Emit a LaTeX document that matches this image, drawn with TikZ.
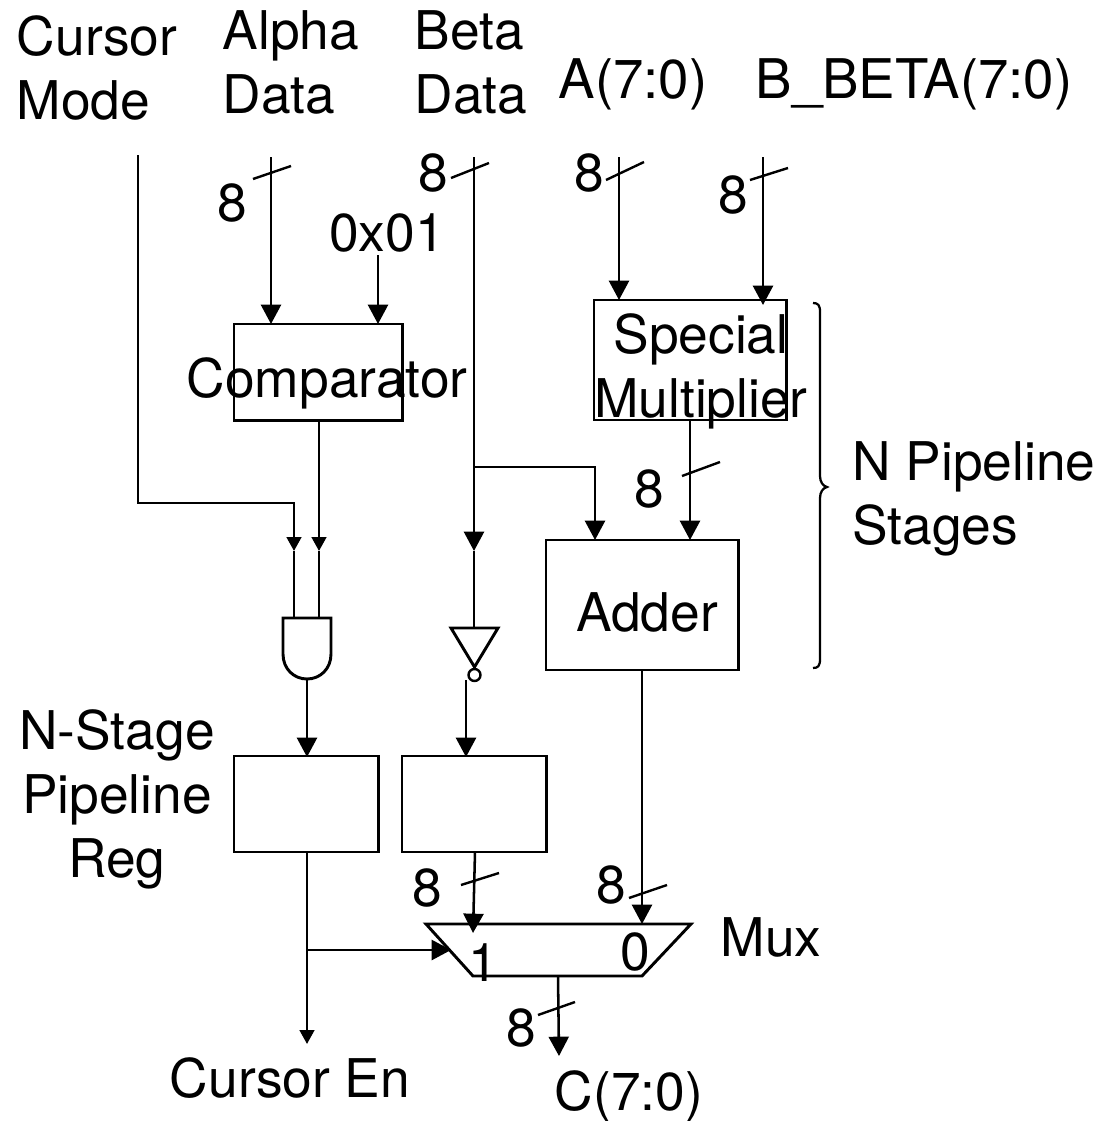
\documentclass[tikz,border=0pt]{standalone}
\usepackage{fontspec}
\setmainfont{TeX Gyre Heros}
\usetikzlibrary{arrows.meta}
\tikzset{
  wire/.style={line width=1.9pt,line join=miter},
  bigtip/.style={wire,-{Triangle[length=14.5pt,width=15pt]}},
  smalltip/.style={wire,-{Triangle[length=10.5pt,width=11pt]}},
  lab/.style={font=\fontsize{40}{48}\selectfont,inner sep=0pt,outer sep=0pt,align=left},
  toplab/.style={lab,font=\fontsize{41}{48}\selectfont},
  blockbox/.style={draw,line width=2.1pt,inner sep=0pt,outer sep=0pt,anchor=north west},
  gate/.style={line width=2.2pt,line join=miter},
  slash/.style={line width=1.8pt},
}
\begin{document}
\begin{tikzpicture}[x=0.75pt,y=-0.75pt]
\useasboundingbox (0,0) rectangle (1115,1121);
% labels
\node[lab] (lcm) at (97,68) {Cursor\\Mode};
\node[lab] (lad) at (291,62) {Alpha\\Data};
\node[lab] (lbd) at (471,62) {Beta\\Data};
\node[toplab] (la) at (633,84) {A(7:0)};
\node[toplab] (lb) at (914,84) {B\_BETA(7:0)};
\node[lab] (l01) at (387,233) {0x01};
\node[lab] (l1) at (232,203) {8};
\node[lab] (l2) at (433,173) {8};
\node[lab] (l3) at (589,173) {8};
\node[lab] (l4) at (733,195) {8};
\node[lab] (l5) at (649,489) {8};
\node[lab] (l6) at (427,888) {8};
\node[lab] (l7) at (611,885) {8};
\node[lab] (l8) at (521,1028) {8};
\node[lab] (lpipe) at (974,499) {N Pipeline\\Stages};
\node[lab,align=center] (lreg) at (117,799) {N-Stage\\Pipeline\\Reg};
\node[lab] (lmux) at (771,937) {Mux};
\node[lab] (len) at (290,1078) {Cursor En};
\node[lab] (lc) at (629,1096) {C(7:0)};
% blocks
\node[blockbox,minimum width=126.5pt,minimum height=72.5pt] (cmp) at (234,324) {};
\node[blockbox,minimum width=144.5pt,minimum height=90pt] (spec) at (594,300) {};
\node[blockbox,minimum width=144.5pt,minimum height=97.5pt] (add) at (546,540) {};
\node[blockbox,minimum width=108.5pt,minimum height=72pt] (rega) at (234,756) {};
\node[blockbox,minimum width=108.5pt,minimum height=72pt] (regb) at (402,756) {};
\node[lab] (tcmp) at (327,383) {Comparator};
\node[lab,align=center] (tspec) at (701,371) {Special\\Multiplier};
\node[lab] (tadd) at (647,612) {Adder};
% gates
\coordinate (andtl) at (283,618);
\coordinate (andtr) at (331,618);
\coordinate (andout) at (307,679);
\draw[gate] (andtl) -- (andtr) -- (331,654) .. controls (331,669) and (320,679) .. (andout)
  .. controls (294,679) and (283,669) .. (283,654) -- cycle;
\coordinate (invl) at (451,628);
\coordinate (invr) at (498,628);
\coordinate (invtip) at (474.5,667);
\draw[gate] (invl) -- (invr) -- (invtip) -- cycle;
\node[draw,circle,line width=1.8pt,minimum size=9pt,inner sep=0pt] (bub) at (474.5,675) {};
\coordinate (muxa) at (426,924);
\coordinate (muxb) at (691,924);
\coordinate (muxc) at (642,976);
\coordinate (muxd) at (473,976);
\draw[gate] (muxa) -- (muxb) -- (muxc) -- (muxd) -- cycle;
\node[lab] (m1) at (483,963) {1};
\node[lab] (m0) at (635,952) {0};
% terminals
\coordinate (scm) at (138,155);
\coordinate (sal) at (271,157);
\coordinate (s01) at (378,255);
\coordinate (sbe) at (474,157);
\coordinate (sa) at (619,157);
\coordinate (sb) at (763,157);
\coordinate (jbeta) at (474,467);
\coordinate (jreg) at (307,950);
\coordinate (mc) at (294,551);
\coordinate (md) at (319,551);
\coordinate (mb) at (474,551);
% connectors
\draw[wire] (scm) -- (138,503) -- (294,503) -- (294,537);
\draw[smalltip] (294,530) -- (mc);
\draw[wire] (mc) -- (294,618);
\draw[smalltip] (319,421) -- (md);
\draw[wire] (md) -- (319,618);
\draw[bigtip] (sal) -- (271,324);
\draw[bigtip] (s01) -- (378,324);
\draw[bigtip] (sbe) -- (mb);
\draw[wire] (mb) -- (474,628);
\draw[bigtip] (jbeta) -- (595,467) -- (595,540);
\draw[bigtip] (sa) -- (619,300);
\draw[bigtip] (sb) -- (763,305);
\draw[bigtip] (690,420) -- (690,540);
\draw[bigtip] (642,670) -- (642,924);
\draw[bigtip] (andout) -- (307,757);
\draw[bigtip] (466,680) -- (466,757);
\draw[smalltip] (307,852) -- (307,1044);
\draw[bigtip] (jreg) -- (451,950);
\draw[bigtip] (475,852) -- (473,933);
\draw[bigtip] (558,976) -- (559,1056);
% bus slashes
\draw[slash] (253,179) -- (291,166);
\draw[slash] (451,178) -- (489,163);
\draw[slash] (606,180) -- (644,162);
\draw[slash] (750,180) -- (788,168);
\draw[slash] (682,476) -- (720,462);
\draw[slash] (461,885) -- (499,873);
\draw[slash] (629,898) -- (667,885);
\draw[slash] (538,1015) -- (575,1002);
% brace
\draw[wire,line width=1.7pt] (813,303) .. controls (818,303) and (820,305) .. (820,312)
  -- (820,476) .. controls (820,482) and (823,486) .. (827,487)
  .. controls (823,488) and (820,492) .. (820,498)
  -- (820,659) .. controls (820,666) and (818,668) .. (813,668);
\end{tikzpicture}
\end{document}
